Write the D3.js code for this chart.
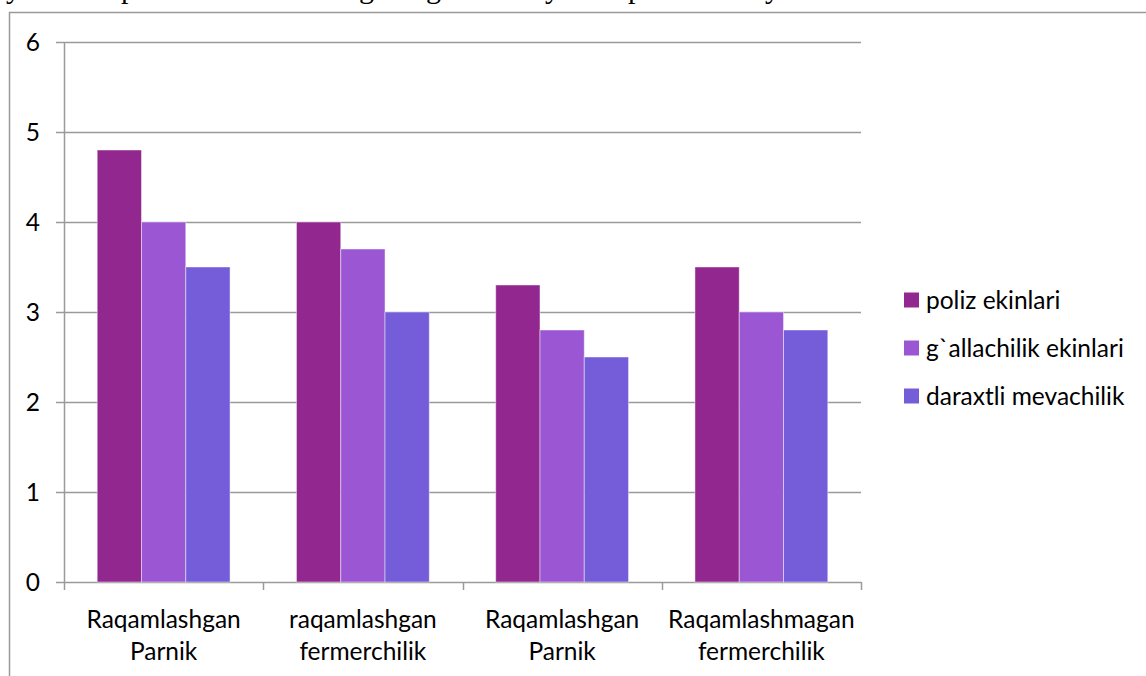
<!DOCTYPE html>
<html>
<head>
<meta charset="utf-8">
<script src="https://cdn.jsdelivr.net/npm/d3@7"></script>
<style>
    html, body { margin: 0; padding: 0; background: #fff; }
    svg { display: block; }
    text { font-family: Lato, "Open Sans", sans-serif; fill: #000; }
</style>
</head>
<body>
<svg id="chart" width="1146" height="676"></svg>
<script>
// Chart data

const categories = [
    ["Raqamlashgan", "Parnik"],
    ["raqamlashgan", "fermerchilik"],
    ["Raqamlashgan", "Parnik"],
    ["Raqamlashmagan", "fermerchilik"]
];
const seriesNames = ["poliz ekinlari", "g`allachilik ekinlari", "daraxtli mevachilik"];
const poliz = [4.8, 4.0, 3.3, 3.5];
const gallachilik = [4.0, 3.7, 2.8, 3.0];
const daraxtli = [3.5, 3.0, 2.5, 2.8];
const yTicks = [0, 1, 2, 3, 4, 5, 6];

// cut-off line of the page text above the chart (only descenders show)
const pageLetters = ["y", "p", "g", "g", "y", "p", "y"];
const pageLetterX = [6, 121, 359, 426, 545, 628, 765];

const colors = ["#92278f", "#9b57d3", "#755dd9"];
const series = [poliz, gallachilik, daraxtli];

const fontSize = '24.5px';

const svg = d3.select('#chart');

// page text remnant
svg.append('g')
    .selectAll('text')
    .data(pageLetters)
    .join('text')
    .attr('x', (d, i) => pageLetterX[i])
    .attr('y', -2)
    .style('font-family', '"Liberation Serif", serif')
    .style('font-size', '30px')
    .text(d => d);

// chart frame
svg.append('rect')
    .attr('x', 9.5)
    .attr('y', 12.5)
    .attr('width', 1200)
    .attr('height', 700)
    .attr('fill', 'none')
    .attr('stroke', '#9a9a9a')
    .attr('stroke-width', 1.5);

const plot = { left: 64, right: 861, top: 42, bottom: 582 };

const x = d3.scaleBand()
    .domain(d3.range(categories.length))
    .range([plot.left, plot.right]);

const bw = x.bandwidth() / 4.5;

const y = d3.scaleLinear()
    .domain([0, 6])
    .range([plot.bottom, plot.top]);

// gridlines + y labels
const yAxis = svg.append('g');
yAxis.selectAll('line')
    .data(yTicks)
    .join('line')
    .attr('x1', plot.left - 8)
    .attr('x2', plot.right)
    .attr('y1', d => Math.round(y(d)) + 0.5)
    .attr('y2', d => Math.round(y(d)) + 0.5)
    .attr('stroke', '#9a9a9a')
    .attr('stroke-width', 1.5);

yAxis.selectAll('text')
    .data(yTicks)
    .join('text')
    .attr('x', 40)
    .attr('y', d => y(d))
    .attr('dy', '0.35em')
    .attr('text-anchor', 'end')
    .style('font-size', fontSize)
    .text(d => d);

// y axis line
svg.append('line')
    .attr('x1', plot.left + 0.5).attr('x2', plot.left + 0.5)
    .attr('y1', plot.top).attr('y2', plot.bottom)
    .attr('stroke', '#9a9a9a')
    .attr('stroke-width', 1.5);

// bars
series.forEach((values, s) => {
    svg.append('g')
        .selectAll('rect')
        .data(values)
        .join('rect')
        .attr('x', (d, i) => x(i) + bw * 0.75 + s * bw)
        .attr('y', d => y(d))
        .attr('width', bw)
        .attr('height', d => y(0) - y(d))
        .attr('fill', colors[s])
        .attr('stroke', 'rgba(255,255,255,0.45)')
        .attr('stroke-width', 1);
});

// x axis ticks between categories
const xTickPos = d3.range(categories.length + 1).map(i => plot.left + i * x.step());
svg.append('g')
    .selectAll('line')
    .data(xTickPos)
    .join('line')
    .attr('x1', d => Math.round(d) + 0.5)
    .attr('x2', d => Math.round(d) + 0.5)
    .attr('y1', plot.bottom)
    .attr('y2', plot.bottom + 8)
    .attr('stroke', '#9a9a9a')
    .attr('stroke-width', 1.5);

// category labels
svg.append('g')
    .selectAll('text')
    .data(categories)
    .join('text')
    .attr('text-anchor', 'middle')
    .style('font-size', fontSize)
    .each(function (lines, i) {
        d3.select(this).selectAll('tspan')
            .data(lines)
            .join('tspan')
            .attr('x', x(i) + x.bandwidth() / 2)
            .attr('y', (d, j) => 628 + j * 32)
            .text(d => d);
    });

// legend
const legend = svg.append('g');
const legendY = [300, 348, 396];
seriesNames.forEach((name, s) => {
    legend.append('rect')
        .attr('x', 904)
        .attr('y', legendY[s] - 7.5)
        .attr('width', 15)
        .attr('height', 15)
        .attr('fill', colors[s]);
    legend.append('text')
        .attr('x', 926)
        .attr('y', legendY[s])
        .attr('dy', '0.35em')
        .style('font-size', fontSize)
        .text(name);
});
</script>
</body>
</html>
